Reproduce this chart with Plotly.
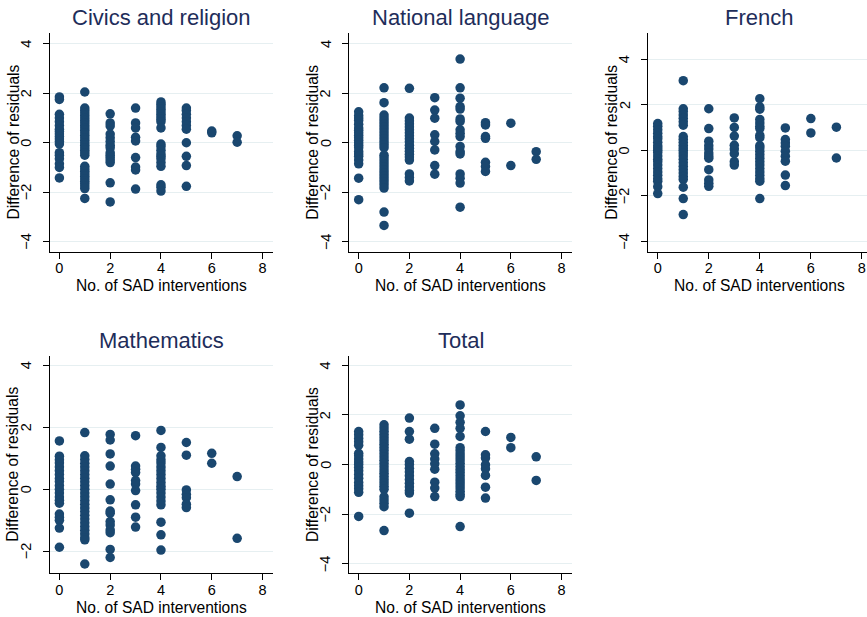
import plotly.graph_objects as go

W, H = 867, 617

# ---------------- data (y values grouped by No. of SAD interventions 0..7) ----
civics_y = [
    [1.85, 1.75, 1.15, 1.0, 0.85, 0.7, 0.55, 0.45, 0.35, 0.25, 0.15, 0.05, -0.05,
     -0.4, -0.5, -0.65, -0.85, -1.0, -1.42],
    [2.05, 1.4, 1.3, 1.2, 1.1, 1.0, 0.9, 0.8, 0.7, 0.6, 0.5, 0.4, 0.3, 0.2, 0.1, 0.0,
     -0.1, -0.2, -0.3, -0.4, -0.5, -0.95, -1.05, -1.15, -1.25, -1.35, -1.45, -1.55,
     -1.65, -1.75, -1.85, -2.25],
    [1.17, 0.8, 0.68, 0.35, 0.2, 0.05, -0.1, -0.2, -0.4, -0.5, -0.6, -0.7, -0.8,
     -1.62, -2.39],
    [1.4, 0.8, 0.6, 0.22, 0.07, -0.6, -0.98, -1.1, -1.87],
    [1.65, 1.55, 1.45, 1.35, 1.25, 1.15, 1.05, 0.95, 0.85, 0.6, -0.05, -0.15, -0.3,
     -0.45, -0.55, -0.65, -0.8, -0.95, -1.7, -1.8, -1.95],
    [1.4, 1.3, 1.15, 1.0, 0.85, 0.7, 0.55, 0.0, -0.55, -0.92, -1.76],
    [0.47, 0.4],
    [0.28, 0.02],
]
national_y = [
    [1.25, 1.1, 1.0, 0.9, 0.75, 0.6, 0.5, 0.4, 0.3, 0.2, 0.1, 0.0, -0.1, -0.2, -0.35,
     -0.45, -0.55, -0.7, -0.85, -1.43, -2.3],
    [2.22, 1.62, 1.12, 1.0, 0.88, 0.76, 0.64, 0.52, 0.4, 0.28, 0.16, 0.04, -0.08,
     -0.2, -0.5, -0.62, -0.74, -0.86, -0.98, -1.1, -1.22, -1.34, -1.46, -1.58, -1.7,
     -1.83, -2.8, -3.34],
    [2.2, 1.0, 0.88, 0.76, 0.64, 0.52, 0.4, 0.28, 0.16, 0.04, -0.1, -0.22, -0.34,
     -0.46, -0.58, -0.7, -1.26, -1.4, -1.54],
    [1.82, 1.32, 0.99, 0.32, 0.05, -0.29, -0.92, -1.27],
    [3.38, 2.22, 1.8, 1.46, 1.36, 0.96, 0.86, 0.52, 0.38, 0.25, -0.15, -0.36, -0.45,
     -1.26, -1.43, -1.63, -2.6],
    [0.81, 0.72, 0.25, 0.18, -0.79, -0.96, -1.16],
    [0.79, -0.92],
    [-0.36, -0.67],
]
french_y = [
    [1.17, 1.05, 0.9, 0.75, 0.6, 0.5, 0.35, 0.2, 0.1, 0.0, -0.1, -0.25, -0.4, -0.5,
     -0.65, -0.8, -0.95, -1.1, -1.25, -1.36, -1.6, -1.9],
    [3.05, 1.82, 1.7, 1.55, 1.4, 1.25, 1.1, 0.6, 0.48, 0.35, 0.22, 0.1, 0.0, -0.12,
     -0.25, -0.4, -0.55, -0.7, -0.85, -1.0, -1.15, -1.28, -1.62, -2.12, -2.82],
    [1.82, 0.95, 0.4, 0.2, 0.05, -0.12, -0.25, -0.35, -0.85, -1.3, -1.45, -1.58],
    [1.42, 1.0, 0.62, 0.22, 0.05, -0.15, -0.5, -0.65],
    [2.26, 1.9, 1.8, 1.35, 1.2, 1.05, 0.95, 0.65, 0.55, 0.2, 0.1, -0.05, -0.2, -0.35,
     -0.5, -0.65, -0.8, -0.95, -1.1, -1.25, -1.36, -2.12],
    [0.98, 0.47, 0.32, 0.18, -0.04, -0.26, -0.48, -1.09, -1.55],
    [1.39, 0.76],
    [1.01, -0.34],
]
maths_y = [
    [1.56, 1.07, 0.95, 0.85, 0.72, 0.6, 0.48, 0.35, 0.25, 0.12, 0.0, -0.12, -0.25,
     -0.35, -0.45, -0.8, -0.9, -1.0, -1.25, -1.87],
    [1.83, 1.08, 0.96, 0.84, 0.72, 0.6, 0.48, 0.36, 0.24, 0.12, 0.0, -0.12, -0.24,
     -0.36, -0.48, -0.6, -0.72, -0.84, -0.96, -1.08, -1.2, -1.32, -1.44, -1.56,
     -1.63, -2.41],
    [1.77, 1.59, 1.14, 0.75, 0.17, -0.34, -0.7, -0.77, -1.04, -1.15, -1.31, -1.4,
     -1.94, -2.2],
    [1.73, 0.75, 0.65, 0.54, 0.28, 0.17, -0.04, -0.5, -0.9, -1.22],
    [1.9, 1.35, 1.08, 0.95, 0.85, 0.72, 0.6, 0.48, 0.35, 0.22, 0.1, 0.0, -0.12,
     -0.25, -0.38, -0.5, -1.06, -1.47, -1.96],
    [1.51, 1.1, -0.02, -0.16, -0.27, -0.48, -0.59],
    [1.16, 0.84],
    [0.41, -1.58],
]
total_y = [
    [1.33, 1.2, 1.05, 0.92, 0.78, 0.45, 0.35, 0.22, 0.1, 0.0, -0.12, -0.25, -0.4,
     -0.55, -0.72, -0.85, -0.98, -1.12, -2.09],
    [1.6, 1.47, 1.34, 1.21, 1.08, 0.95, 0.82, 0.69, 0.56, 0.43, 0.3, 0.17, 0.04,
     -0.09, -0.22, -0.35, -0.48, -0.61, -0.74, -0.87, -1.0, -1.3, -1.43, -1.56,
     -1.7, -2.66],
    [1.87, 1.33, 1.02, 0.12, 0.0, -0.15, -0.3, -0.45, -0.6, -0.75, -0.9, -1.05,
     -1.15, -1.96],
    [1.46, 0.82, 0.43, 0.22, 0.03, -0.19, -0.71, -0.95, -1.29],
    [2.4, 1.96, 1.7, 1.46, 1.13, 0.68, 0.55, 0.42, 0.3, 0.18, 0.05, -0.08, -0.2,
     -0.32, -0.45, -0.58, -0.7, -0.82, -0.95, -1.08, -1.2, -1.29, -2.5],
    [1.33, 0.39, 0.26, -0.01, -0.17, -0.44, -0.91, -1.35],
    [1.09, 0.68],
    [0.31, -0.64],
]

titles = ["Civics and religion", "National language", "French", "Mathematics", "Total"]
panels_y = [civics_y, national_y, french_y, maths_y, total_y]
x_ticks = [0, 2, 4, 6, 8]
y_ticks_main = [-4, -2, 0, 2, 4]
y_ticks_maths = [-2, 0, 2, 4]
x_title = "No. of SAD interventions"
y_title = "Difference of residuals"

# ---------------- layout geometry (pixels) ----------------
# (left, right, top, bottom) of each plot region
boxes = [
    (50, 272.7, 33.3, 251.7),
    (349.3, 571.7, 33.3, 251.7),
    (648.3, 867, 33.3, 251.7),
    (50, 272.7, 356, 573.3),
    (349.3, 571.7, 356, 573.3),
]
y_ranges = [[-4.4, 4.42], [-4.4, 4.42], [-4.45, 5.13], [-2.71, 4.3], [-4.38, 4.37]]
x_ranges = [[-0.37, 8.4], [-0.37, 8.4], [-0.37, 8.2], [-0.37, 8.4], [-0.37, 8.4]]
y_tickvals = [y_ticks_main, y_ticks_main, y_ticks_main, y_ticks_maths, y_ticks_main]

NAVY = "#1a476f"
TITLE_COL = "#1e2d5a"
GRID = "#e6eff1"
FONT = "Liberation Sans, Arial, sans-serif"

fig = go.Figure()
layout = dict(
    width=W, height=H, autosize=False,
    margin=dict(l=0, r=0, t=0, b=0, pad=0),
    paper_bgcolor="white", plot_bgcolor="white",
    showlegend=False,
    font=dict(family=FONT, size=14, color="black"),
)
annotations = []

for i, (ys, title, box) in enumerate(zip(panels_y, titles, boxes)):
    n = "" if i == 0 else str(i + 1)
    xs, yv = [], []
    for xv, col in enumerate(ys):
        xs.extend([xv] * len(col))
        yv.extend(col)
    fig.add_trace(go.Scatter(
        x=xs, y=yv, mode="markers",
        marker=dict(color=NAVY, size=9.5, line=dict(width=0)),
        xaxis="x" + n, yaxis="y" + n, hoverinfo="skip",
    ))
    l, r, t, b = box
    layout["xaxis" + n] = dict(
        domain=[l / W, r / W], anchor="y" + n, range=x_ranges[i],
        tickvals=x_ticks, ticks="outside", ticklen=6, tickwidth=1.2,
        tickcolor="black", showline=True, linecolor="black", linewidth=1.2,
        showgrid=False, zeroline=False, tickfont=dict(size=14.5, color="black"),
        ticklabelstandoff=-3, fixedrange=True, automargin=False,
    )
    layout["yaxis" + n] = dict(
        domain=[1 - b / H, 1 - t / H], anchor="x" + n, range=y_ranges[i],
        tickvals=y_tickvals[i], ticks="outside", ticklen=6, tickwidth=1.2,
        tickcolor="black", showline=True, linecolor="black", linewidth=1.2,
        showgrid=True, gridcolor=GRID, gridwidth=1.2, zeroline=False,
        showticklabels=False, fixedrange=True, automargin=False,
    )
    # rotated y tick labels, positioned on the axis' own data scale
    for v in y_tickvals[i]:
        annotations.append(dict(
            text=str(v).replace("-", "\u2212"), x=(l - 24) / W, y=v,
            xref="paper", yref="y" + n, showarrow=False, textangle=-90,
            font=dict(size=14.5, color="black", family=FONT),
            xanchor="center", yanchor="middle",
        ))
    cx = (l + r) / 2 if i != 2 else 759
    cy = (t + b) / 2
    annotations.append(dict(
        text=title, x=cx / W, y=1 - (t - 16) / H, xref="paper", yref="paper",
        showarrow=False, font=dict(size=22, color=TITLE_COL, family=FONT),
        xanchor="center", yanchor="middle",
    ))
    annotations.append(dict(
        text=x_title, x=cx / W, y=1 - (b + 34) / H, xref="paper", yref="paper",
        showarrow=False, font=dict(size=15.6, color="black", family=FONT),
        xanchor="center", yanchor="middle",
    ))
    annotations.append(dict(
        text=y_title, x=(l - 37) / W, y=1 - cy / H, xref="paper", yref="paper",
        showarrow=False, textangle=-90, font=dict(size=15.6, color="black", family=FONT),
        xanchor="center", yanchor="middle",
    ))

layout["annotations"] = annotations
fig.update_layout(**layout)
fig.write_html(
    "out.html",
    config={"displayModeBar": False},
    post_script="document.body.style.margin='0';document.body.style.padding='0';",
)
